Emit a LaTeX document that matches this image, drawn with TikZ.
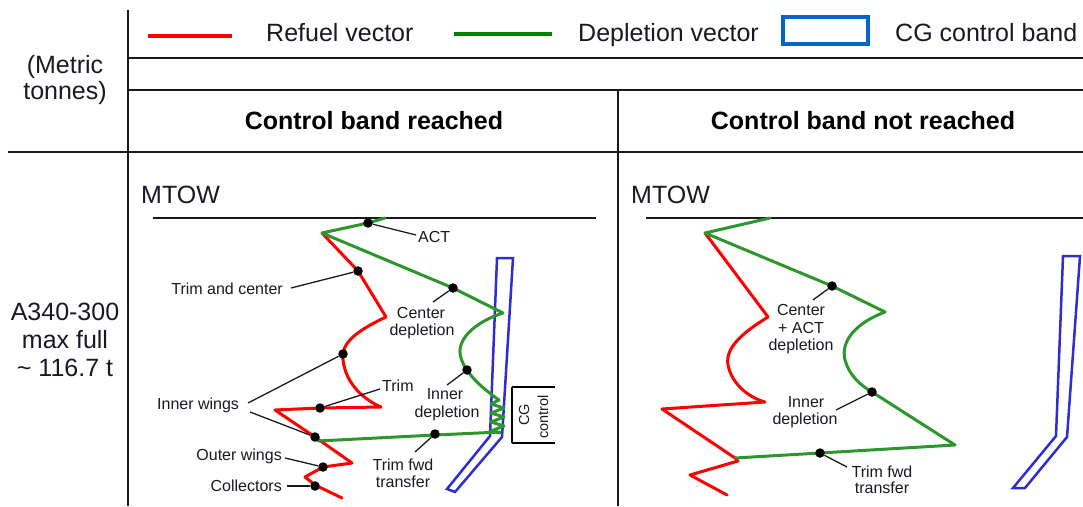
\documentclass[tikz,border=0pt]{standalone}
\usepackage{fontspec}
\setmainfont{Liberation Sans}
\definecolor{depgreen}{RGB}{45,150,45}
\definecolor{leggreen}{RGB}{0,130,0}
\definecolor{bandblue}{RGB}{45,45,210}
\definecolor{boxblue}{RGB}{0,102,204}
\definecolor{ink}{RGB}{25,25,35}
\tikzset{
 tbl/.style={line width=1.4pt, draw=ink},
 refuel/.style={draw=red, line width=3pt, line join=round, line cap=round},
 deplete/.style={draw=depgreen, line width=3pt, line join=round, line cap=round},
 band/.style={draw=bandblue, line width=2.5pt, line join=miter},
 dot/.style={circle, fill=black, inner sep=0pt, minimum size=9.5pt},
 leader/.style={draw=ink, line width=1.3pt},
 big/.style={font=\fontsize{25}{27}\selectfont, inner sep=0pt, text=ink},
 bigb/.style={font=\fontsize{25}{27}\selectfont\bfseries, inner sep=0pt, text=black},
 lbl/.style={font=\fontsize{16}{17}\selectfont, inner sep=0pt, text=ink},
}
\begin{document}
\begin{tikzpicture}[x=1pt,y=-1pt]
\useasboundingbox (0,0) rectangle (1083,506);
% table
\coordinate (vt) at (128,10); \coordinate (vb) at (128,506);
\draw[tbl] (vt) -- (vb);
\coordinate (h1a) at (128,58); \coordinate (h1b) at (1083,58);
\coordinate (h2a) at (128,90); \coordinate (h2b) at (1083,90);
\coordinate (h3a) at (8,152); \coordinate (h3b) at (1083,152);
\coordinate (m1) at (618,90); \coordinate (m2) at (618,506);
\draw[tbl] (h1a) -- (h1b);
\draw[tbl] (h2a) -- (h2b);
\draw[tbl] (h3a) -- (h3b);
\draw[tbl] (m1) -- (m2);
% legend
\coordinate (lr1) at (148,36); \coordinate (lr2) at (232,36);
\draw[draw=red, line width=4pt] (lr1) -- (lr2);
\node[big, anchor=base west] (tref) at (266,41) {Refuel vector};
\coordinate (lg1) at (454,34); \coordinate (lg2) at (552,34);
\draw[draw=leggreen, line width=4pt] (lg1) -- (lg2);
\node[big, anchor=base west] (tdep) at (578,41) {Depletion vector};
\coordinate (lb1) at (783,17); \coordinate (lb2) at (868,44);
\draw[draw=boxblue, line width=3.2pt] (lb1) rectangle (lb2);
\node[big, anchor=base west] (tcg) at (895,41) {CG control band};
% left column
\node[big, anchor=base] (met1) at (65,73) {(Metric};
\node[big, anchor=base] (met2) at (65,99) {tonnes)};
\node[big, anchor=base] (ac1) at (65,320) {A340-300};
\node[big, anchor=base] (ac2) at (65,348) {max full};
\node[big, anchor=base] (ac3) at (65,376) {\char"007E\ 116.7 t};
% headers
\node[bigb, anchor=base] (hd1) at (374,129) {Control band reached};
\node[bigb, anchor=base] (hd2) at (863,129) {Control band not reached};
% MTOW
\node[big, anchor=base west] (mt1) at (141,203) {MTOW};
\node[big, anchor=base west] (mt2) at (631,203) {MTOW};
\coordinate (ml1) at (153,218); \coordinate (ml2) at (596,218);
\draw[line width=1.3pt, draw=ink] (ml1) -- (ml2);
\coordinate (mr1) at (646,218); \coordinate (mr2) at (1083,218);
\draw[line width=1.3pt, draw=ink] (mr1) -- (mr2);

% ===== left panel =====
\draw[band] (497,258) -- (513,258) -- (502,437) -- (455,492) -- (447,489) -- (490,436) -- cycle;
% refuel
\draw[refuel] (322,233) -- (358,271) -- (386,317)
  .. controls (352,333) and (341,345) .. (343,360)
  .. controls (346,385) and (365,400) .. (381,407)
  -- (320,408) -- (275,410) -- (315,437) -- (352,463) -- (323,467)
  -- (305,477) -- (315,485) -- (342,498);
% depletion
\draw[deplete] (385,218) -- (368,223) -- (322,233) -- (453,288) -- (503,313)
  .. controls (475,322) and (455,340) .. (461,358)
  .. controls (466,375) and (485,390) .. (499,400)
  -- (491,404) -- (504,408) -- (491,413) -- (504,417) -- (491,422) -- (504,426) -- (491,431) -- (500,433);
\draw[deplete] (318,441) -- (435,435) -- (500,432);
% dots
\node[dot] (dACT) at (368,223) {};
\node[dot] (dTC) at (358,271) {};
\node[dot] (dCD) at (453,288) {};
\node[dot] (dIW1) at (343,354) {};
\node[dot] (dTr) at (320,408) {};
\node[dot] (dIW2) at (315,437) {};
\node[dot] (dOW) at (323,467) {};
\node[dot] (dCo) at (315,486) {};
\node[dot] (dID) at (467,370) {};
\node[dot] (dTF) at (435,434) {};
% labels
\node[lbl, anchor=base west] (tACT) at (418,242) {ACT};
\node[lbl, anchor=base east] (tTC) at (283,294) {Trim and center};
\node[lbl, anchor=base] (tCD1) at (421,318) {Center};
\node[lbl, anchor=base] (tCD2) at (422,335) {depletion};
\node[lbl, anchor=base west] (tTr) at (382,391) {Trim};
\node[lbl, anchor=base west] (tIW) at (157,409) {Inner wings};
\node[lbl, anchor=base east] (tOW) at (282,460) {Outer wings};
\node[lbl, anchor=base east] (tCo) at (282,491) {Collectors};
\node[lbl, anchor=base] (tID1) at (445,399) {Inner};
\node[lbl, anchor=base] (tID2) at (447,417) {depletion};
\node[lbl, anchor=base] (tTF1) at (403,470) {Trim fwd};
\node[lbl, anchor=base] (tTF2) at (403,487) {transfer};
% leaders
\coordinate (eACT) at (416,235);
\coordinate (eTC) at (291,288);
\coordinate (eCD) at (433,302);
\coordinate (eTr) at (380,389);
\coordinate (eIW1) at (248,403);
\coordinate (eIW2) at (250,412);
\coordinate (eOW) at (285,458);
\coordinate (eCo) at (287,486);
\coordinate (eID) at (447,385);
\coordinate (eTF) at (415,452);
\draw[leader] (dACT) -- (eACT);
\draw[leader] (dTC) -- (eTC);
\draw[leader] (dCD) -- (eCD);
\draw[leader] (dTr) -- (eTr);
\draw[leader] (dIW1) -- (eIW1);
\draw[leader] (dIW2) -- (eIW2);
\draw[leader] (dOW) -- (eOW);
\draw[leader] (dCo) -- (eCo);
\draw[leader] (dID) -- (eID);
\draw[leader] (dTF) -- (eTF);
% CG control bracket
\coordinate (b1) at (512,387); \coordinate (b2) at (555,387);
\coordinate (b3) at (512,443); \coordinate (b4) at (555,443);
\draw[line width=1.8pt, draw=black] (b1) -- (b2);
\draw[line width=1.8pt, draw=black] (b3) -- (b4);
\draw[line width=1.3pt, draw=black] (b1) -- (b3);
\node[lbl, font=\fontsize{14.5}{15}\selectfont, rotate=90] (tCG1) at (524,415) {CG};
\node[lbl, font=\fontsize{14.5}{15}\selectfont, rotate=90] (tCG2) at (543,417) {control};

% ===== right panel =====
\draw[band] (1063,256) -- (1080,256) -- (1067,437) -- (1025,488) -- (1013,488) -- (1056,436) -- cycle;
\draw[refuel] (705,233) -- (768,317)
  .. controls (742,333) and (725,348) .. (728,365)
  .. controls (732,385) and (750,398) .. (765,402)
  -- (662,409) -- (735,458) -- (738,461) -- (690,475) -- (727,495);
\draw[deplete] (770,218) -- (705,233) -- (832,286) -- (885,312)
  .. controls (858,322) and (840,340) .. (845,360)
  .. controls (849,375) and (860,385) .. (872,392)
  -- (955,445) -- (820,453) -- (735,458);
\node[dot] (rCA) at (832,286) {};
\node[dot] (rID) at (872,392) {};
\node[dot] (rTF) at (820,453) {};
\node[lbl, anchor=base] (rt1) at (801,315) {Center};
\node[lbl, anchor=base] (rt2) at (801,333) {+ ACT};
\node[lbl, anchor=base] (rt3) at (801,350) {depletion};
\node[lbl, anchor=base] (rt4) at (806,407) {Inner};
\node[lbl, anchor=base] (rt5) at (805,424) {depletion};
\node[lbl, anchor=base] (rt6) at (882,477) {Trim fwd};
\node[lbl, anchor=base] (rt7) at (882,493) {transfer};
\coordinate (erCA) at (813,300);
\coordinate (erID) at (836,410);
\coordinate (erTF) at (847,467);
\draw[leader] (rCA) -- (erCA);
\draw[leader] (rID) -- (erID);
\draw[leader] (rTF) -- (erTF);
\end{tikzpicture}
\end{document}
